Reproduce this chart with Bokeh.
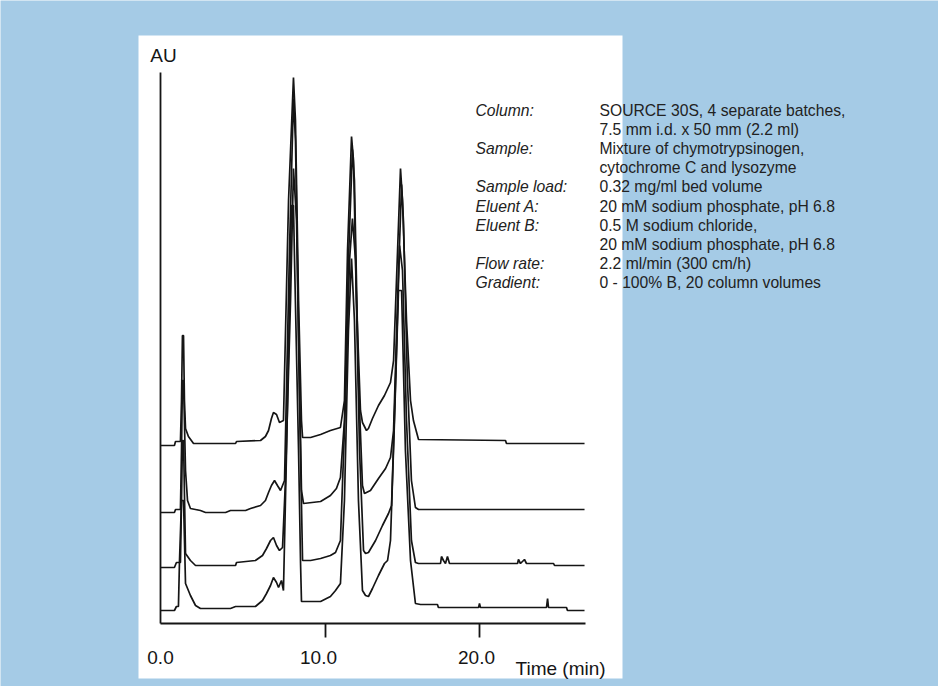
from bokeh.plotting import figure
from bokeh.models import Range1d, LinearAxis, FixedTicker, Label, BoxAnnotation
from bokeh.embed import file_html
from bokeh.resources import INLINE

# ---- data (time in min, signal in arbitrary absorbance units, traces already offset) ----
t1 = [-0.71, 0.19, 0.26, 0.58, 0.65, 0.71, 0.78, 0.84, 0.91, 1.10, 1.43, 4.16, 4.22, 5.78, 6.10, 6.30, 6.49, 6.62,
      6.82, 7.01, 7.27, 7.60, 7.92, 8.05, 8.25, 8.44, 8.51, 9.03, 9.68, 10.32, 10.97, 11.23, 11.43, 11.69, 11.82,
      12.01, 12.27, 12.40, 12.66, 12.79, 13.05, 13.44, 13.83, 14.22, 14.42, 14.68, 14.87, 15.00, 15.26, 15.52,
      15.71, 16.04, 21.69, 21.75, 26.82]
a1 = [178, 178, 182, 182, 223, 288, 288, 223, 195, 187, 180, 180, 182, 183, 187, 193, 205, 211, 209, 201, 203,
      423, 546, 503, 323, 203, 186, 186, 189, 193, 196, 223, 373, 487, 463, 323, 213, 201, 193, 195, 205, 218,
      228, 241, 263, 373, 455, 423, 303, 223, 203, 184, 183, 180, 180]

t2 = [-0.71, 0.19, 0.26, 0.58, 0.65, 0.71, 0.78, 0.91, 1.04, 1.23, 1.88, 2.21, 3.51, 3.83, 4.81, 5.13, 5.78, 6.10,
      6.30, 6.49, 6.69, 6.88, 7.08, 7.34, 7.66, 7.92, 8.05, 8.25, 8.44, 8.57, 9.68, 10.32, 10.71, 10.97, 11.23,
      11.49, 11.75, 11.88, 12.14, 12.40, 12.53, 12.92, 13.44, 13.90, 14.22, 14.42, 14.68, 14.94, 15.06, 15.32,
      15.58, 15.84, 16.04, 26.82]
a2 = [111, 111, 114, 114, 173, 243, 243, 153, 123, 115, 113, 111, 111, 113, 113, 115, 118, 123, 131, 138, 143,
      138, 133, 143, 373, 525, 483, 293, 133, 120, 122, 128, 135, 146, 203, 363, 474, 443, 243, 138, 130, 133,
      145, 155, 166, 193, 323, 439, 403, 243, 143, 116, 114, 114]

t3 = [-0.71, 0.19, 0.32, 0.58, 0.65, 0.71, 0.78, 0.91, 1.23, 1.56, 4.16, 4.22, 5.45, 5.91, 6.17, 6.43, 6.62, 6.82,
      7.01, 7.21, 7.40, 7.73, 7.92, 8.12, 8.31, 8.51, 9.03, 9.68, 10.32, 10.65, 10.97, 11.30, 11.56, 11.75, 11.95,
      12.21, 12.47, 12.60, 12.79, 13.25, 13.70, 14.09, 14.29, 14.55, 14.81, 15.00, 15.26, 15.58, 15.84, 16.04,
      17.47, 17.53, 17.66, 17.79, 17.92, 18.05, 22.47, 22.53, 22.66, 22.92, 23.05, 24.81, 24.87, 26.82]
a3 = [56, 56, 61, 61, 123, 183, 183, 70, 63, 58, 58, 61, 63, 68, 75, 83, 86, 78, 73, 76, 143, 323, 455, 403, 223,
      63, 63, 65, 68, 71, 83, 223, 363, 405, 363, 173, 73, 70, 71, 83, 98, 110, 118, 243, 378, 353, 203, 83, 61,
      60, 60, 67, 63, 60, 67, 60, 60, 64, 60, 64, 60, 60, 58, 58]

t4 = [-0.71, 0.19, 0.32, 0.45, 0.52, 0.65, 0.78, 0.91, 1.23, 1.56, 1.88, 3.83, 4.16, 5.45, 5.91, 6.17, 6.43, 6.62,
      6.82, 6.95, 7.14, 7.27, 7.47, 7.79, 7.92, 7.99, 8.25, 8.38, 8.44, 9.68, 10.32, 10.65, 10.97, 11.23, 11.49,
      11.69, 11.88, 12.14, 12.40, 12.60, 12.79, 13.05, 13.44, 13.83, 14.03, 14.22, 14.48, 14.74, 14.94, 15.19,
      15.52, 15.84, 16.17, 17.27, 17.33, 19.94, 20.00, 20.06, 24.35, 24.42, 24.48, 25.65, 25.71, 26.82]
a4 = [13, 13, 17, 17, 63, 123, 123, 40, 28, 18, 15, 15, 17, 17, 23, 30, 38, 46, 41, 36, 43, 33, 173, 418, 418,
      363, 173, 60, 22, 22, 27, 33, 40, 123, 293, 365, 303, 123, 33, 28, 27, 35, 48, 60, 63, 83, 203, 333, 333,
      173, 63, 20, 19, 19, 16, 16, 20, 16, 16, 25, 16, 16, 13, 13]

tick_marks = [10, 20]
tick_label_pos = [0, 10, 20]
tick_labels = ["0.0", "10.0", "20.0"]

param_names = ["Column:", "", "Sample:", "", "Sample load:", "Eluent A:", "Eluent B:", "", "Flow rate:", "Gradient:"]
param_values = ["SOURCE 30S, 4 separate batches,", "7.5 mm i.d. x 50 mm (2.2 ml)", "Mixture of chymotrypsinogen,",
                "cytochrome C and lysozyme", "0.32 mg/ml bed volume", "20 mM sodium phosphate, pH 6.8",
                "0.5 M sodium chloride,", "20 mM sodium phosphate, pH 6.8", "2.2 ml/min (300 cm/h)",
                "0 - 100% B, 20 column volumes"]

# ---- styling ----
BLUE = "#a5cbe6"
INK = "#151515"
FONT = "Liberation Sans"

p = figure(width=938, height=686, output_backend="svg", toolbar_location=None,
           x_range=Range1d(-11.104, 49.805), y_range=Range1d(-63, 623),
           x_axis_location=None, y_axis_location=None,
           min_border_left=0, min_border_right=0, min_border_top=0, min_border_bottom=0,
           background_fill_color=BLUE, border_fill_color=BLUE, outline_line_color=None)
p.grid.visible = False
p.extra_x_ranges = {"lab": Range1d(-10.1266, 49.2405)}

# white chart panel
p.add_layout(BoxAnnotation(left=-2.1429, right=29.2857, bottom=-55, top=588, fill_color="white",
                           fill_alpha=1.0, line_color=None, level="underlay"))

for tt, aa in [(t1, a1), (t2, a2), (t3, a3), (t4, a4)]:
    p.line(tt, aa, line_color=INK, line_width=1.7)

# axes drawn inside the white panel
yax = LinearAxis(fixed_location=-0.71, bounds=(0, 551), ticker=FixedTicker(ticks=[]),
                 axis_line_color=INK, axis_line_width=1.8, major_tick_line_color=None,
                 minor_tick_line_color=None)
p.add_layout(yax, "left")

xax = LinearAxis(fixed_location=0, bounds=(-0.71, 26.88), ticker=FixedTicker(ticks=tick_marks),
                 axis_line_color=INK, axis_line_width=1.8, major_tick_line_color=INK, major_tick_line_width=1.8,
                 major_tick_out=14, major_tick_in=0, minor_tick_line_color=None,
                 major_label_text_color=None)
p.add_layout(xax, "below")

xlab = LinearAxis(x_range_name="lab", fixed_location=0, ticker=FixedTicker(ticks=tick_label_pos),
                  major_label_overrides={k: v for k, v in zip(tick_label_pos, tick_labels)},
                  axis_line_color=None, major_tick_line_color=None, minor_tick_line_color=None,
                  major_tick_out=0, major_tick_in=0, major_label_standoff=27,
                  major_label_text_font=FONT, major_label_text_font_size="19px",
                  major_label_text_color=INK)
p.add_layout(xlab, "below")

p.add_layout(Label(x=-0.52, y=568, text="AU", text_font=FONT, text_font_size="19px", text_color=INK,
                   text_align="center", text_baseline="alphabetic"))
p.add_layout(Label(x=22.34, y=-45, text="Time (min)", text_font=FONT, text_font_size="19px", text_color=INK,
                   text_align="left", text_baseline="alphabetic"))

for i, (nm, val) in enumerate(zip(param_names, param_values)):
    yy = 513.5 - 19.2 * i
    if nm:
        p.add_layout(Label(x=19.74, y=yy, text=nm, text_font=FONT, text_font_size="15.7px",
                           text_font_style="italic", text_color="#222222", text_baseline="alphabetic"))
    p.add_layout(Label(x=27.79, y=yy, text=val, text_font=FONT, text_font_size="15.7px",
                       text_color="#222222", text_baseline="alphabetic"))

html = file_html(p, INLINE)
html = html.replace("<body>", '<body style="background-color:%s;">' % BLUE, 1)
open("out.html", "w").write(html)
